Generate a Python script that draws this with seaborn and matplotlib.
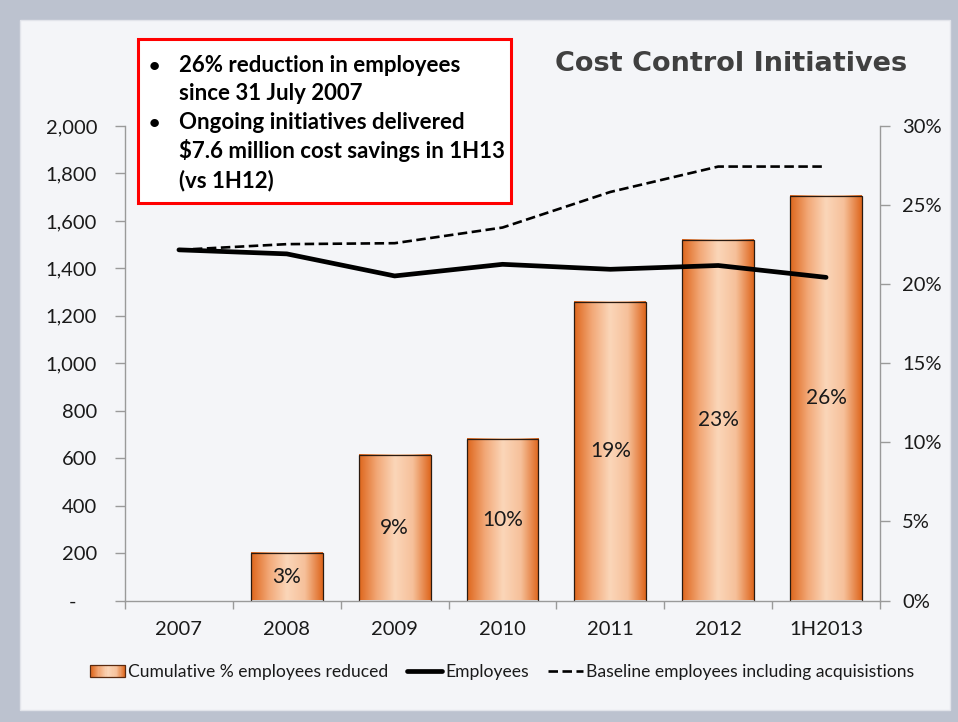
import numpy as np
import pandas as pd
import matplotlib
matplotlib.use("Agg")
import matplotlib.pyplot as plt
import seaborn as sns
from matplotlib.patches import Rectangle
from matplotlib.colors import LinearSegmentedColormap
from matplotlib.legend_handler import HandlerBase
from matplotlib.lines import Line2D
from matplotlib.ticker import FuncFormatter, FixedLocator

# ---- data -------------------------------------------------------------
periods = ["2007", "2008", "2009", "2010", "2011", "2012", "1H2013"]
cumulative_pct_reduced = [0.0, 3.0, 9.2, 10.2, 18.9, 22.8, 25.6]
employees = [1478, 1461, 1368, 1417, 1396, 1412, 1362]
baseline_employees = [1478, 1502, 1506, 1572, 1722, 1829, 1829]

title = "Cost Control Initiatives"
notes = [
    ("•", "26% reduction in employees"),
    ("", "since 31 July 2007"),
    ("•", "Ongoing initiatives delivered"),
    ("", "$7.6 million cost savings in 1H13"),
    ("", "(vs 1H12)"),
]
left_ticks = list(range(0, 2001, 200))
right_ticks = [0, 5, 10, 15, 20, 25, 30]

df = pd.DataFrame({
    "period": periods,
    "pos": np.arange(len(periods)),
    "pct": cumulative_pct_reduced,
    "employees": employees,
    "baseline": baseline_employees,
})

# ---- figure & styling -------------------------------------------------
sns.set_theme(style="white")
plt.rcParams["font.family"] = ["Lato", "DejaVu Sans"]

W, H = 958, 722
fig = plt.figure(figsize=(W / 100, H / 100), dpi=100)
fig.patch.set_facecolor("#bcc2cf")

def px(x, y):
    return x / W, 1 - y / H

# slide panel
fig.add_artist(Rectangle(px(20, 710), 930 / W, 690 / H, transform=fig.transFigure,
                         facecolor="#f4f5f8", edgecolor="#e2e4ea", lw=1, zorder=0))

ax_left, ax_right = 125, 880
ax_top, ax_bot = 126, 600.5
ax2 = fig.add_axes([ax_left / W, 1 - ax_bot / H, (ax_right - ax_left) / W, (ax_bot - ax_top) / H])
ax = fig.add_axes(ax2.get_position(), sharex=ax2)
ax.patch.set_visible(False)
ax2.patch.set_visible(False)

grey = "#9a9a9a"
text_col = "#1a1a1a"

# gradient used for bars
bar_cmap = LinearSegmentedColormap.from_list(
    "bar", ["#de661c", "#f2a877", "#fbd6b9", "#f6c09a", "#de661c"])

# ---- bars (percentage axis, right) -----------------------------------
sns.barplot(data=df, x="period", y="pct", ax=ax2, color="#f0a070",
            width=0.667, edgecolor="#2a1a10", linewidth=0.9, errorbar=None)

grad = np.linspace(0, 1, 256).reshape(1, -1)
for patch in ax2.patches:
    x0, w, h = patch.get_x(), patch.get_width(), patch.get_height()
    if h <= 0:
        patch.set_visible(False)
        continue
    ax2.imshow(grad, extent=[x0, x0 + w, 0, h], cmap=bar_cmap, aspect="auto",
               zorder=patch.get_zorder() - 0.1, interpolation="bicubic")
    patch.set_facecolor("none")

labels = [f"{v:.0f}%" if v > 0 else "" for v in cumulative_pct_reduced]
ax2.bar_label(ax2.containers[0], labels=labels, label_type="center",
              fontsize=15, color=text_col)

ax2.set_ylim(0, 30)
ax2.yaxis.tick_right()
ax2.yaxis.set_major_locator(FixedLocator(right_ticks))
ax2.yaxis.set_major_formatter(FuncFormatter(lambda v, _: f"{v:.0f}%"))
ax2.tick_params(axis="y", which="major", right=True, left=False, labelright=True,
                labelleft=False, length=7, width=1, color=grey, pad=9,
                labelsize=14.5, labelcolor=text_col)
ax2.set_xlabel("")
ax2.set_ylabel("")

# ---- lines (employee count axis, left) --------------------------------
sns.lineplot(data=df, x="pos", y="baseline", ax=ax, color="black", lw=1.9,
             linestyle=(0, (3.6, 1.7)), legend=False)
sns.lineplot(data=df, x="pos", y="employees", ax=ax, color="black", lw=3.4,
             legend=False, solid_capstyle="round")

ax.set_ylim(0, 2000)
ax.set_xlim(-0.5, len(periods) - 0.5)
ax.yaxis.set_major_locator(FixedLocator(left_ticks))
ax.yaxis.set_major_formatter(FuncFormatter(lambda v, _: "-    " if v == 0 else f"{v:,.0f}"))
ax.tick_params(axis="y", which="major", left=True, right=False, labelleft=True,
               labelright=False, length=7, width=1, color=grey, pad=13,
               labelsize=14.5, labelcolor=text_col)
ax.set_xlabel("")
ax.set_ylabel("")

# category labels at centres, tick marks at boundaries
ax.set_xticks(np.arange(len(periods)))
ax.set_xticklabels(periods)
ax.set_xticks(np.arange(-0.5, len(periods), 1), minor=True)
ax.tick_params(axis="x", which="major", length=0, pad=15, labelsize=14.5,
               labelcolor=text_col, bottom=True)
ax.tick_params(axis="x", which="minor", length=6, width=1, color=grey, bottom=True)
ax2.tick_params(axis="x", which="both", length=0, labelbottom=False)

for a in (ax, ax2):
    a.spines["top"].set_visible(False)
    for s in ("left", "right", "bottom"):
        a.spines[s].set_color(grey)
        a.spines[s].set_linewidth(1)
ax.spines["right"].set_visible(False)
ax2.spines["left"].set_visible(False)
ax2.spines["bottom"].set_visible(False)
ax.set_zorder(ax2.get_zorder() + 1)
ax.set_xlim(-0.5, len(periods) - 0.5)

# ---- legend -----------------------------------------------------------
class GradientHandler(HandlerBase):
    def create_artists(self, legend, orig_handle, xdescent, ydescent,
                       width, height, fontsize, trans):
        n = 30
        arts = []
        for i in range(n):
            arts.append(Rectangle((-xdescent + i * width / n, -ydescent), width / n + 0.3,
                                  height, facecolor=bar_cmap((i + 0.5) / n),
                                  edgecolor="none", transform=trans))
        arts.append(Rectangle((-xdescent, -ydescent), width, height, fill=False,
                              edgecolor="#5a2a10", lw=0.9, transform=trans))
        return arts

bar_handle = Rectangle((0, 0), 1, 1)
h_emp = Line2D([], [], color="black", lw=3.4, solid_capstyle="round")
h_base = Line2D([], [], color="black", lw=1.9, linestyle=(0, (3.6, 1.7)))
fig.legend([bar_handle, h_emp, h_base],
           ["Cumulative % employees reduced", "Employees",
            "Baseline employees including acquisistions"],
           handler_map={Rectangle: GradientHandler()},
           loc="center", bbox_to_anchor=px(502, 672), ncol=3, frameon=False,
           fontsize=12.6, handlelength=2.0, handletextpad=0.15,
           columnspacing=1.1, labelcolor=text_col)

# ---- title & note box -------------------------------------------------
fig.text(*px(907, 71), title, ha="right", va="baseline", fontsize=19.5,
         fontweight="bold", color="#404040", family=["DejaVu Sans"])

fig.add_artist(Rectangle(px(138, 203), (511 - 138) / W, (203 - 39) / H,
                         transform=fig.transFigure, facecolor="white",
                         edgecolor="#ff0000", lw=2.2, zorder=5))
y0 = 71.7
for i, (bullet, line) in enumerate(notes):
    yb = y0 + i * 28.8
    if bullet:
        fig.text(*px(149, yb), bullet, ha="left", va="baseline", fontsize=14,
                 fontweight="bold", color="black", zorder=6)
    fig.text(*px(179, yb), line, ha="left", va="baseline", fontsize=16,
             fontweight="bold", color="black", zorder=6)

fig.savefig("out.png", dpi=100, facecolor=fig.get_facecolor())
